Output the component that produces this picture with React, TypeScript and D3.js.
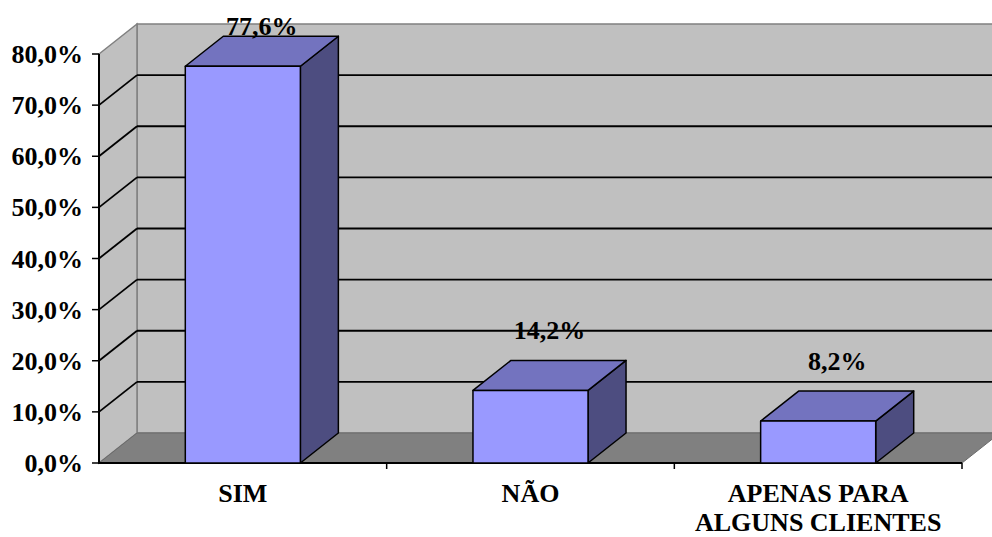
import React from "react";
import * as d3 from "d3";

// Survey answers and their shares (%)
const categories: string[][] = [["SIM"], ["NÃO"], ["APENAS PARA", "ALGUNS CLIENTES"]];
const values: number[] = [77.6, 14.2, 8.2];
const valueLabels: string[] = ["77,6%", "14,2%", "8,2%"];
const yTicks: number[] = [0, 10, 20, 30, 40, 50, 60, 70, 80];

const W = 992;
const H = 537;
const FONT = "Liberation Serif";

// Oblique projection offsets for the depth axis
const DX = 38;
const DY = -30;

const fmtTick = (v: number) => `${v.toFixed(1).replace(".", ",")}%`;

export default function App() {
  const left = 99;
  const right = 962;
  const y = d3.scaleLinear().domain([0, 80]).range([463, 54]);
  const x = d3
    .scaleBand<number>()
    .domain(categories.map((_, i) => i))
    .range([left, right])
    .padding(0);
  const bw = x.bandwidth();
  const barW = bw * 0.4;
  const y0 = y(0);
  const yTop = y(80);

  const pts = (arr: [number, number][]) => arr.map((p) => p.join(",")).join(" ");
  const textStyle = { fontFamily: FONT, fontWeight: 700, fontSize: 26 } as const;

  return (
    <svg
      width={W}
      height={H}
      style={{ position: "absolute", left: 0, top: 0, background: "#fff" }}
    >
      {/* back wall */}
      <polygon
        points={pts([
          [left + DX, yTop + DY],
          [right + DX, yTop + DY],
          [right + DX, y0 + DY],
          [left + DX, y0 + DY],
        ])}
        fill="#C0C0C0"
        stroke="#808080"
        strokeWidth={1.5}
      />
      {/* left wall */}
      <polygon
        points={pts([
          [left, yTop],
          [left + DX, yTop + DY],
          [left + DX, y0 + DY],
          [left, y0],
        ])}
        fill="#C0C0C0"
        stroke="#808080"
        strokeWidth={1.5}
      />
      {/* floor */}
      <polygon
        points={pts([
          [left, y0],
          [left + DX, y0 + DY],
          [right + DX, y0 + DY],
          [right, y0],
        ])}
        fill="#808080"
        stroke="#6a6a6a"
        strokeWidth={1}
      />
      {/* gridlines */}
      {yTicks
        .filter((t) => t > 0 && t < 80)
        .map((t) => (
          <g key={t}>
            <line x1={left} y1={y(t)} x2={left + DX} y2={y(t) + DY} stroke="#000" strokeWidth={1.8} />
            <line
              x1={left + DX}
              y1={y(t) + DY}
              x2={right + DX}
              y2={y(t) + DY}
              stroke="#000"
              strokeWidth={1.8}
            />
          </g>
        ))}
      {/* y axis */}
      <line x1={left} y1={yTop} x2={left} y2={y0 + 1} stroke="#000" strokeWidth={2} />
      {yTicks.map((t) => (
        <g key={t}>
          <line x1={left - 7} y1={y(t)} x2={left} y2={y(t)} stroke="#000" strokeWidth={1.5} />
          <text x={83} y={y(t)} dy="0.35em" textAnchor="end" style={textStyle}>
            {fmtTick(t)}
          </text>
        </g>
      ))}
      {/* x axis */}
      <line x1={left} y1={y0} x2={right} y2={y0} stroke="#000" strokeWidth={2} />
      {categories.map((_, i) => (
        <line
          key={i}
          x1={(x(i) as number) + bw}
          y1={y0}
          x2={(x(i) as number) + bw}
          y2={y0 + 6}
          stroke="#000"
          strokeWidth={1.5}
        />
      ))}
      {/* bars */}
      {values.map((v, i) => {
        const cx = (x(i) as number) + bw / 2;
        const x0 = cx - barW / 2;
        const x1 = cx + barW / 2;
        const yv = y(v);
        return (
          <g key={i} stroke="#000" strokeWidth={1.5} strokeLinejoin="round">
            <polygon
              points={pts([
                [x1, yv],
                [x1 + DX, yv + DY],
                [x1 + DX, y0 + DY],
                [x1, y0],
              ])}
              fill="#4D4D80"
            />
            <polygon
              points={pts([
                [x0, yv],
                [x0 + DX, yv + DY],
                [x1 + DX, yv + DY],
                [x1, yv],
              ])}
              fill="#7373BF"
            />
            <rect x={x0} y={yv} width={barW} height={y0 - yv} fill="#9999FF" />
          </g>
        );
      })}
      {/* value labels */}
      {values.map((v, i) => {
        const cx = (x(i) as number) + bw / 2 + DX / 2;
        const base = Math.max(y(v) + DY - 21, 35);
        return (
          <text key={i} x={cx} y={base} textAnchor="middle" style={textStyle}>
            {valueLabels[i]}
          </text>
        );
      })}
      {/* category labels */}
      {categories.map((lines, i) => {
        const cx = (x(i) as number) + bw / 2;
        return (
          <text key={i} textAnchor="middle" style={textStyle}>
            {lines.map((ln, j) => (
              <tspan key={j} x={cx} y={502 + j * 29}>
                {ln}
              </tspan>
            ))}
          </text>
        );
      })}
    </svg>
  );
}
